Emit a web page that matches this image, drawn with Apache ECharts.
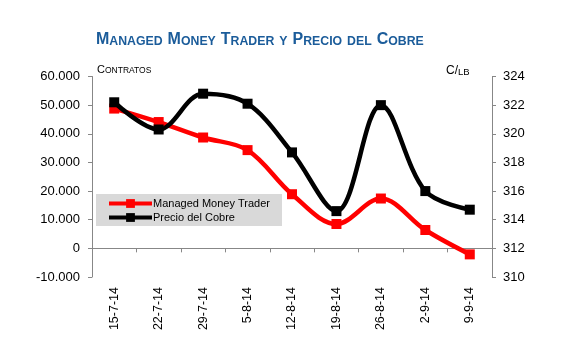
<!DOCTYPE html>
<html>
<head>
<meta charset="utf-8">
<script src="https://cdn.jsdelivr.net/npm/echarts@6/dist/echarts.min.js"></script>
<style>
html,body{margin:0;padding:0;background:#fff;}
#c{width:561px;height:338px;}
</style>
</head>
<body>
<div id="c"></div>
<script>
var categories = ['15-7-14','22-7-14','29-7-14','5-8-14','12-8-14','19-8-14','26-8-14','2-9-14','9-9-14'];
var managedMoney = [48800, 44100, 38700, 34300, 18900, 8500, 17400, 6400, -2100];
var precioCobre = [322.2, 320.3, 322.8, 322.1, 318.7, 314.6, 322.0, 316.0, 314.7];
var leftTicks = {min: -10000, max: 60000, interval: 10000};
var rightTicks = {min: 310, max: 324, interval: 2};

var FONT = 'Liberation Sans';
var chart = echarts.init(document.getElementById('c'), null, {renderer: 'canvas'});

function fmtThousands(v) {
  var neg = v < 0; var a = Math.abs(v);
  var s = String(a).replace(/\B(?=(\d{3})+(?!\d))/g, '.');
  return (neg ? '-' : '') + s;
}

var titleRich = {
  b: {fontSize: 16, fontWeight: 'bold', color: '#1b5c9a', fontFamily: FONT, verticalAlign: 'bottom', lineHeight: 17},
  s: {fontSize: 12.3, fontWeight: 'bold', color: '#1b5c9a', fontFamily: FONT, verticalAlign: 'bottom', lineHeight: 17}
};
var smallRich = {
  b: {fontSize: 11, color: '#000', fontFamily: FONT, verticalAlign: 'bottom', lineHeight: 12},
  s: {fontSize: 8.5, color: '#000', fontFamily: FONT, verticalAlign: 'bottom', lineHeight: 12}
};
var unitRich = {
  b: {fontSize: 12, color: '#000', fontFamily: FONT, verticalAlign: 'bottom', lineHeight: 13},
  s: {fontSize: 9.5, color: '#000', fontFamily: FONT, verticalAlign: 'bottom', lineHeight: 13}
};

var option = {
  animation: false,
  backgroundColor: '#fff',
  title: {
    text: '{b|M}{s|ANAGED} {b|M}{s|ONEY} {b|T}{s|RADER} {s|Y} {b|P}{s|RECIO} {s|DEL} {b|C}{s|OBRE}',
    left: 96, top: 30, padding: 0,
    textStyle: {rich: titleRich}
  },
  graphic: [
    {type: 'text', left: 97, top: 64, style: {text: '{b|C}{s|ONTRATOS}', rich: smallRich}},
    {type: 'text', left: 446, top: 65, style: {text: '{b|C/}{s|LB}', rich: unitRich}}
  ],
  legend: {
    orient: 'vertical',
    left: 96, top: 194,
    padding: [4, 12, 3, 11],
    itemGap: 3,
    itemWidth: 43, itemHeight: 11,
    backgroundColor: '#d9d9d9',
    lineStyle: {width: 4},
    textStyle: {fontFamily: FONT, fontSize: 11, color: '#000', padding: [0, 0, 0, -4]},
    data: ['Managed Money Trader', 'Precio del Cobre']
  },
  grid: {left: 92, right: 69, top: 76.5, bottom: 61, containLabel: false},
  xAxis: {
    type: 'category',
    data: categories,
    boundaryGap: true,
    axisLine: {onZero: true, lineStyle: {color: '#878787', width: 1}},
    axisTick: {show: true, alignWithLabel: false, length: 4, inside: false, lineStyle: {color: '#878787'}},
    axisLabel: {rotate: 90, color: '#000', fontFamily: FONT, fontSize: 12.5, margin: 10, interval: 0},
    splitLine: {show: false}
  },
  yAxis: [
    {
      type: 'value', position: 'left',
      min: leftTicks.min, max: leftTicks.max, interval: leftTicks.interval,
      axisLine: {show: true, onZero: false, lineStyle: {color: '#878787'}},
      axisTick: {show: true, length: 4, lineStyle: {color: '#878787'}},
      axisLabel: {color: '#000', fontFamily: FONT, fontSize: 13, margin: 12, formatter: fmtThousands},
      splitLine: {show: false}
    },
    {
      type: 'value', position: 'right',
      min: rightTicks.min, max: rightTicks.max, interval: rightTicks.interval,
      axisLine: {show: true, onZero: false, lineStyle: {color: '#878787'}},
      axisTick: {show: true, length: 4, lineStyle: {color: '#878787'}},
      axisLabel: {color: '#000', fontFamily: FONT, fontSize: 13, margin: 11},
      splitLine: {show: false}
    }
  ],
  series: [
    {
      name: 'Managed Money Trader', type: 'line', yAxisIndex: 0,
      data: managedMoney, smooth: 0.35,
      symbol: 'rect', symbolSize: 10,
      lineStyle: {color: '#ff0000', width: 4.5},
      itemStyle: {color: '#ff0000'},
      z: 2
    },
    {
      name: 'Precio del Cobre', type: 'line', yAxisIndex: 1,
      data: precioCobre, smooth: 0.35,
      symbol: 'rect', symbolSize: 10,
      lineStyle: {color: '#000000', width: 4.5},
      itemStyle: {color: '#000000'},
      z: 3
    }
  ]
};
chart.setOption(option);
</script>
</body>
</html>
